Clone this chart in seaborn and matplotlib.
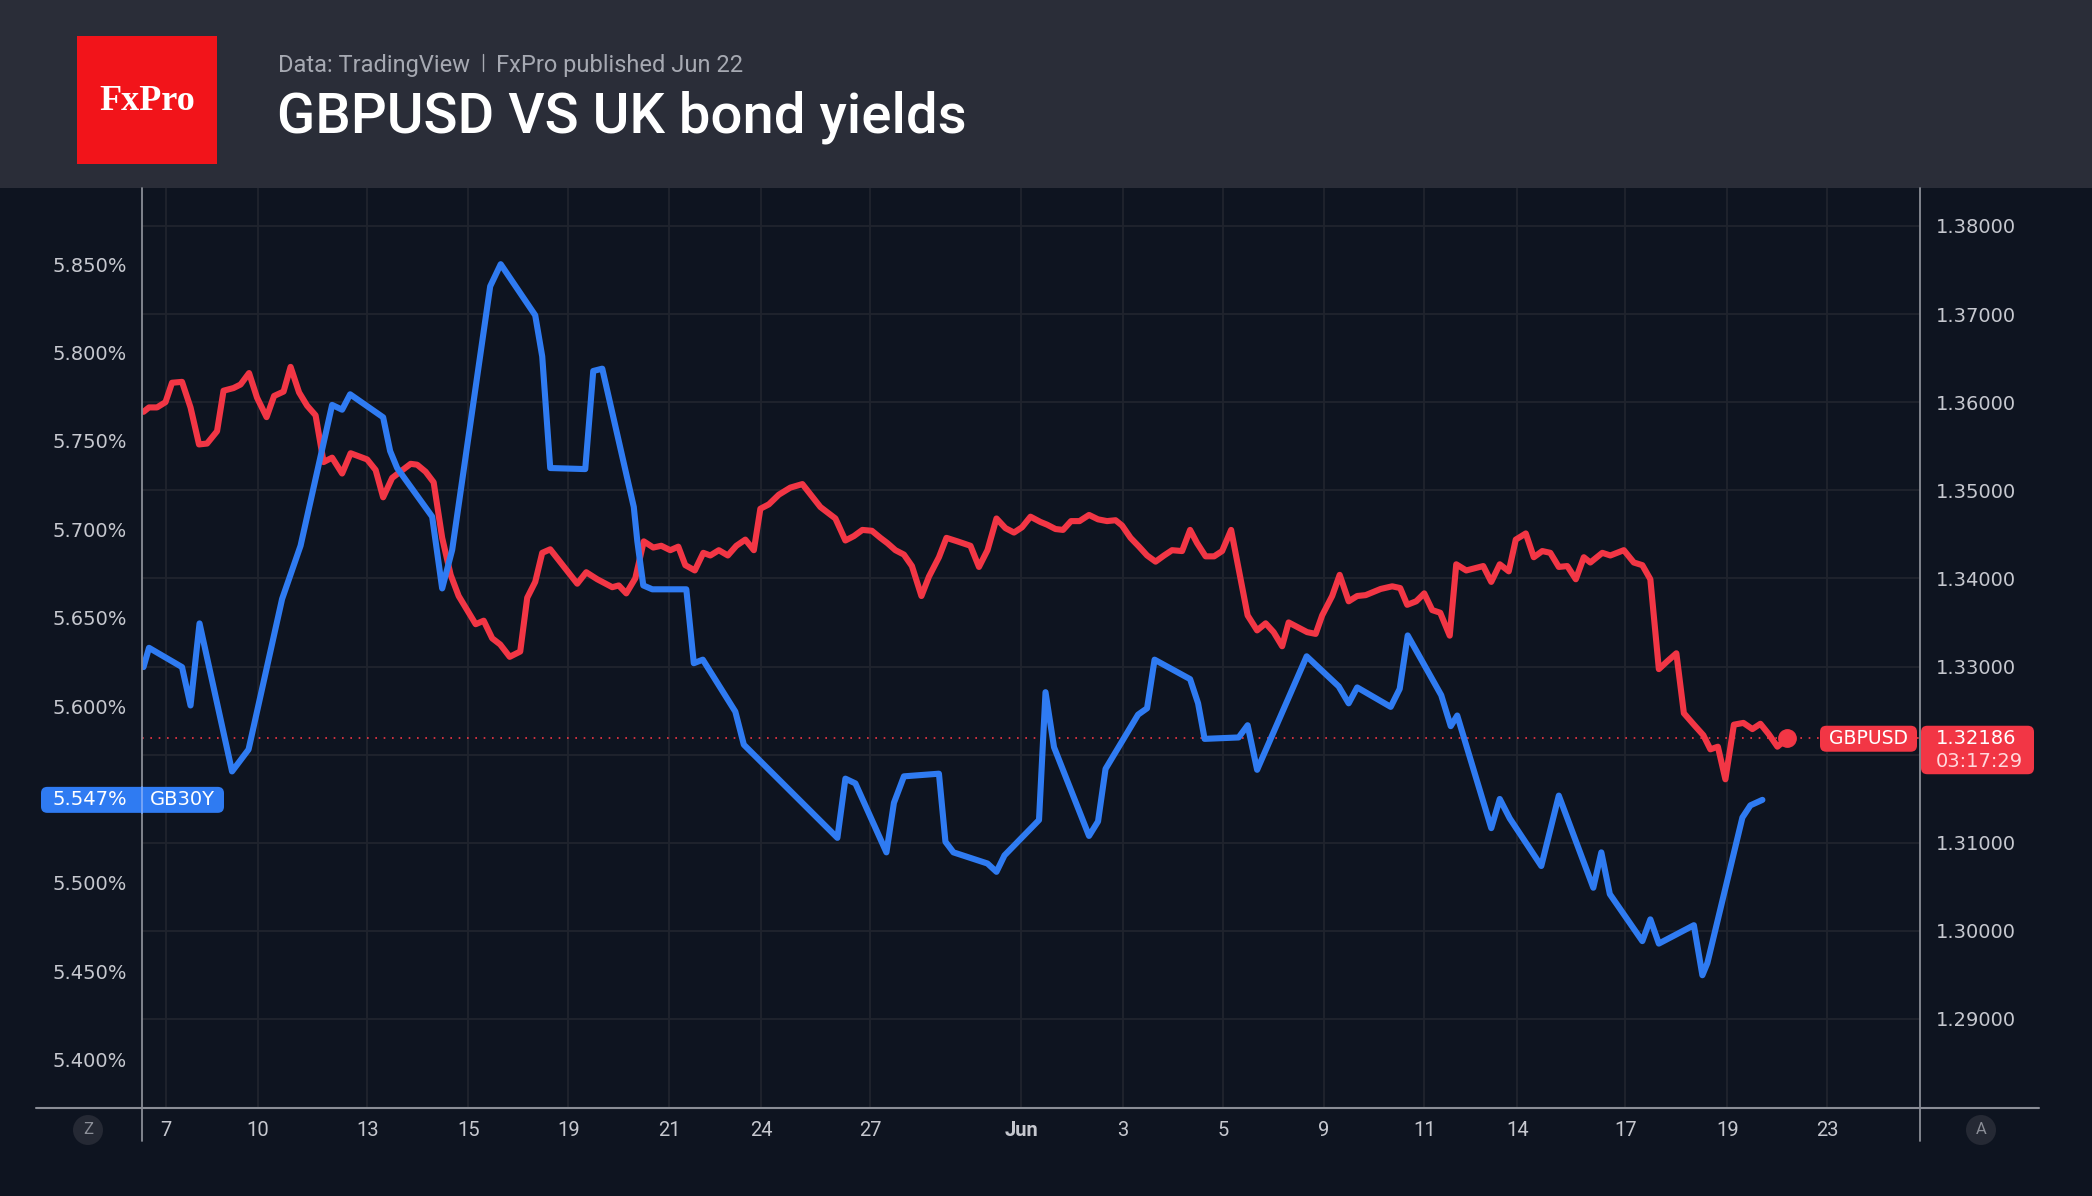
import matplotlib
matplotlib.use("Agg")
import matplotlib.pyplot as plt
from matplotlib.patches import Rectangle, FancyBboxPatch
from matplotlib.lines import Line2D
import pandas as pd
import seaborn as sns

# ---------------- data ----------------
# x unit: trading days on TradingView's compressed time scale
gbpusd_t = [0.06, 0.17, 0.33, 0.50, 0.63, 0.83, 1.00, 1.17, 1.33, 1.53,
            1.66, 1.86, 2.00, 2.17, 2.33, 2.52, 2.67, 2.86, 3.00, 3.17,
            3.33, 3.50, 3.66, 3.83, 4.03, 4.20, 4.53, 4.70, 4.85, 5.03,
            5.40, 5.53, 5.70, 5.86, 6.03, 6.20, 6.36, 6.70, 6.86, 7.03,
            7.19, 7.38, 7.59, 7.73, 7.89, 8.03, 8.19, 8.73, 8.91, 9.13,
            9.43, 9.56, 9.71, 9.89, 10.06, 10.25, 10.41, 10.59, 10.75, 10.89,
            11.08, 11.25, 11.39, 11.56, 11.74, 11.91, 12.09, 12.26, 12.39, 12.56,
            12.76, 12.99, 13.23, 13.59, 13.89, 14.09, 14.26, 14.43, 14.62, 14.79,
            14.93, 15.09, 15.26, 15.42, 15.61, 15.76, 15.96, 16.11, 16.33, 16.59,
            16.76, 16.93, 17.11, 17.29, 17.46, 17.62, 17.79, 17.99, 18.12, 18.29,
            18.44, 18.60, 18.77, 18.96, 19.14, 19.32, 19.49, 19.62, 19.79, 19.96,
            20.12, 20.29, 20.46, 20.62, 20.82, 20.98, 21.12, 21.29, 21.46, 21.62,
            21.80, 22.13, 22.32, 22.49, 22.65, 22.82, 22.95, 23.15, 23.32, 23.49,
            23.62, 23.82, 23.97, 24.15, 24.32, 24.49, 24.79, 25.02, 25.18, 25.32,
            25.50, 25.66, 25.82, 25.98, 26.17, 26.30, 26.50, 26.84, 27.00, 27.17,
            27.35, 27.49, 27.69, 27.85, 28.02, 28.18, 28.35, 28.52, 28.69, 28.85,
            28.98, 29.22, 29.38, 29.65, 29.85, 30.02, 30.18, 30.35, 30.52, 30.70,
            30.85, 31.05, 31.24, 31.38, 31.53, 31.68, 31.85, 32.04, 32.22, 32.38,
            32.55, 32.72, 32.92]
gbpusd = [1.3589, 1.3594, 1.3594, 1.3600, 1.3622, 1.3623, 1.3594, 1.3552, 1.3553, 1.3567,
          1.3613, 1.3616, 1.3620, 1.3633, 1.3605, 1.3583, 1.3607, 1.3612, 1.3640, 1.3611,
          1.3596, 1.3585, 1.3532, 1.3537, 1.3519, 1.3542, 1.3535, 1.3523, 1.3492, 1.3514,
          1.3530, 1.3529, 1.3521, 1.3509, 1.3446, 1.3404, 1.3380, 1.3348, 1.3352, 1.3332,
          1.3325, 1.3311, 1.3317, 1.3378, 1.3396, 1.3429, 1.3433, 1.3394, 1.3407, 1.3399,
          1.3390, 1.3392, 1.3383, 1.3400, 1.3442, 1.3435, 1.3437, 1.3432, 1.3436, 1.3415,
          1.3409, 1.3429, 1.3426, 1.3432, 1.3426, 1.3437, 1.3444, 1.3432, 1.3479, 1.3484,
          1.3495, 1.3503, 1.3507, 1.3481, 1.3468, 1.3443, 1.3448, 1.3455, 1.3454, 1.3446,
          1.3440, 1.3432, 1.3427, 1.3414, 1.3380, 1.3402, 1.3424, 1.3446, 1.3442, 1.3437,
          1.3413, 1.3432, 1.3468, 1.3457, 1.3452, 1.3458, 1.3470, 1.3464, 1.3461, 1.3456,
          1.3455, 1.3465, 1.3465, 1.3472, 1.3467, 1.3465, 1.3466, 1.3460, 1.3446, 1.3436,
          1.3426, 1.3419, 1.3426, 1.3432, 1.3431, 1.3455, 1.3440, 1.3425, 1.3425, 1.3431,
          1.3455, 1.3358, 1.3341, 1.3349, 1.3339, 1.3323, 1.3350, 1.3344, 1.3339, 1.3337,
          1.3358, 1.3380, 1.3404, 1.3374, 1.3380, 1.3381, 1.3388, 1.3391, 1.3389, 1.3370,
          1.3374, 1.3383, 1.3364, 1.3361, 1.3335, 1.3416, 1.3409, 1.3414, 1.3396, 1.3416,
          1.3408, 1.3444, 1.3451, 1.3424, 1.3431, 1.3429, 1.3413, 1.3414, 1.3399, 1.3424,
          1.3418, 1.3429, 1.3426, 1.3432, 1.3418, 1.3415, 1.3399, 1.3297, 1.3306, 1.3315,
          1.3247, 1.3234, 1.3222, 1.3206, 1.3209, 1.3172, 1.3234, 1.3236, 1.3229, 1.3235,
          1.3223, 1.3209, 1.32186]

gb30y_t = [0.06, 0.17, 0.83, 1.00, 1.18, 1.83, 2.16, 2.83, 3.20, 3.83,
           4.03, 4.19, 4.85, 4.99, 5.13, 5.83, 6.03, 6.23, 6.99, 7.20,
           7.89, 8.03, 8.19, 8.89, 9.05, 9.23, 9.86, 9.93, 10.05, 10.23,
           10.91, 11.06, 11.24, 11.89, 12.06, 13.93, 14.09, 14.29, 14.91, 15.06,
           15.26, 15.96, 16.09, 16.25, 16.93, 17.11, 17.27, 17.96, 18.09, 18.26,
           18.96, 19.14, 19.29, 19.94, 20.12, 20.27, 20.98, 21.14, 21.27, 21.95,
           22.13, 22.32, 23.31, 23.95, 24.15, 24.32, 24.99, 25.17, 25.33, 26.00,
           26.19, 26.32, 27.00, 27.17, 27.37, 28.00, 28.35, 29.04, 29.20, 29.37,
           30.02, 30.18, 30.35, 31.05, 31.22, 31.32, 32.02, 32.18, 32.42]
gb30y = [5.6221, 5.6330, 5.6221, 5.6004, 5.6468, 5.5631, 5.5755, 5.6606, 5.6908, 5.7704,
         5.7677, 5.7764, 5.7634, 5.7443, 5.7347, 5.7072, 5.6666, 5.6884, 5.8375, 5.8500,
         5.8211, 5.7978, 5.7347, 5.7341, 5.7896, 5.7909, 5.7127, 5.6935, 5.6683, 5.6661,
         5.6661, 5.6243, 5.6263, 5.5969, 5.5782, 5.5255, 5.5590, 5.5563, 5.5173, 5.5453,
         5.5603, 5.5618, 5.5233, 5.5173, 5.5110, 5.5063, 5.5156, 5.5356, 5.6079, 5.5768,
         5.5266, 5.5348, 5.5645, 5.5952, 5.5988, 5.6263, 5.6153, 5.6016, 5.5815, 5.5823,
         5.5892, 5.5640, 5.6282, 5.6112, 5.6016, 5.6106, 5.5996, 5.6098, 5.6400, 5.6062,
         5.5887, 5.5947, 5.5310, 5.5475, 5.5365, 5.5096, 5.5494, 5.4973, 5.5173, 5.4937,
         5.4671, 5.4794, 5.4657, 5.4761, 5.4478, 5.4547, 5.5370, 5.5439, 5.547]

x_tick_pos = [0.50, 2.35, 4.53, 6.55, 8.55, 10.57, 12.41, 14.59, 17.61,
              19.64, 21.64, 23.65, 25.66, 27.52, 29.68, 31.72, 33.71]
x_tick_labels = ["7", "10", "13", "15", "19", "21", "24", "27", "Jun",
                 "3", "5", "9", "11", "14", "17", "19", "23"]
yield_ticks = [5.40, 5.45, 5.50, 5.60, 5.65, 5.70, 5.75, 5.80, 5.85]
fx_ticks = [1.29, 1.30, 1.31, 1.32, 1.33, 1.34, 1.35, 1.36, 1.37, 1.38]
x_range = (0.03, 35.57)
yield_range = (5.3727, 5.8931)
fx_range = (1.2799, 1.3843)
last_fx = 1.32186
last_yield = 5.547
countdown = "03:17:29"
title = "GBPUSD VS UK bond yields"
subtitle_left = "Data: TradingView"
subtitle_right = "FxPro published Jun 22"

# ---------------- style ----------------
sns.set_style("dark")
plt.rcParams["font.family"] = ["DejaVu Sans"]

BG = "#0e1420"
HEADER = "#2a2d38"
GRID = "#20242e"
AXIS = "#8a8d96"
TICK = "#c6c8cf"
RED = "#f23645"
BLUE = "#2f7bf2"
SUB = "#a6a9b2"

W, H, DPI = 2092, 1196, 100
def fx(px):
    return px / W
def fy(py):
    return 1 - py / H

fig = plt.figure(figsize=(W / DPI, H / DPI), dpi=DPI, facecolor=BG)
renderer = fig.canvas.get_renderer()

# header band and logo
fig.add_artist(Rectangle((0, fy(188)), 1, 188 / H, transform=fig.transFigure,
                         facecolor=HEADER, edgecolor="none", zorder=0))
fig.add_artist(Rectangle((fx(77), fy(164)), 140 / W, 128 / H, transform=fig.transFigure,
                         facecolor="#f2141a", edgecolor="none", zorder=1))
fig.text(fx(147), fy(101), "FxPro", ha="center", va="center", color="white",
         fontsize=26, family="Liberation Serif", weight="bold")
t1 = fig.text(fx(278), fy(72), subtitle_left, ha="left", va="baseline", color=SUB,
              fontsize=17, family="Roboto")
x_end = t1.get_window_extent(renderer).x1
sep_x = x_end + 13
fig.add_artist(Line2D([sep_x / W, sep_x / W], [fy(71), fy(54)], color=SUB, lw=1.0,
                      transform=fig.transFigure))
fig.text((sep_x + 13) / W, fy(72), subtitle_right, ha="left", va="baseline", color=SUB,
         fontsize=17, family="Roboto")
fig.text(fx(277), fy(133), title, ha="left", va="baseline", color="white",
         fontsize=40.5, family="Roboto", weight="medium")

# axes
L, R, T, B = 142, 1920, 188, 1108
ax_r = fig.add_axes([fx(L), fy(B), (R - L) / W, (B - T) / H])
ax_r.set_facecolor(BG)
ax_b = ax_r.twinx()
ax_b.patch.set_visible(False)

df_fx = pd.DataFrame({"t": gbpusd_t, "v": gbpusd})
df_y = pd.DataFrame({"t": gb30y_t, "v": gb30y})
sns.lineplot(data=df_fx, x="t", y="v", ax=ax_r, color=RED, linewidth=4.4,
             estimator=None, sort=False)
sns.lineplot(data=df_y, x="t", y="v", ax=ax_b, color=BLUE, linewidth=4.4,
             estimator=None, sort=False)
for a in (ax_r, ax_b):
    for ln in a.lines:
        ln.set_solid_joinstyle("round")
        ln.set_solid_capstyle("round")
    a.set_xlabel("")
    a.set_ylabel("")
    for s in a.spines.values():
        s.set_visible(False)

ax_r.set_xlim(*x_range)
ax_r.set_ylim(*fx_range)
ax_b.set_ylim(*yield_range)

# last price line + dot
ax_r.axhline(last_fx, color=RED, lw=1.2, ls=(0, (1, 4)), zorder=1)
ax_r.plot([gbpusd_t[-1]], [last_fx], "o", color=RED, ms=12.5, zorder=5)

# ticks
ax_r.set_xticks(x_tick_pos)
ax_r.set_xticklabels(x_tick_labels)
for lab in ax_r.get_xticklabels():
    lab.set_family("Roboto")
    if lab.get_text() == "Jun":
        lab.set_weight("bold")
ax_r.tick_params(axis="x", length=0, pad=9, labelsize=14.5, labelcolor=TICK)

ax_r.yaxis.tick_right()
ax_r.set_yticks(fx_ticks)
ax_r.set_yticklabels(["" if abs(v - 1.32) < 1e-9 else f"{v:.5f}" for v in fx_ticks])
ax_r.tick_params(axis="y", length=0, pad=11.5, labelsize=14, labelcolor=TICK,
                 left=False, labelleft=False, right=False, labelright=True)

ax_b.yaxis.tick_left()
ax_b.set_yticks(yield_ticks)
ax_b.set_yticklabels([f"{v:.3f}%" for v in yield_ticks])
ax_b.tick_params(axis="y", length=0, pad=11, labelsize=14, labelcolor=TICK,
                 left=False, labelleft=True, right=False, labelright=False)

ax_r.grid(True, color=GRID, lw=1.3)
ax_b.grid(False)
ax_r.set_axisbelow(True)

# frame lines
fig.add_artist(Line2D([fx(36), fx(2039)], [fy(B), fy(B)], color=AXIS, lw=1.5,
                      transform=fig.transFigure))
for xp in (L, R):
    fig.add_artist(Line2D([fx(xp), fx(xp)], [fy(T), fy(1141)], color=AXIS, lw=1.3,
                          transform=fig.transFigure))

# Z / A buttons
for xp, ch in ((88, "Z"), (1981, "A")):
    fig.text(fx(xp), fy(1130), ch, ha="center", va="center", color="#8b8e97",
             fontsize=12, family="Roboto",
             bbox=dict(boxstyle="circle,pad=0.45", fc="#252934", ec="none"))

# price tags (positioned through the axes' data transforms)
def y_px(axis, val):
    return H - axis.transData.transform((x_range[0], val))[1]

def tag(x0, x1, ytop, ybot, color):
    fig.add_artist(FancyBboxPatch((fx(x0), fy(ybot)), (x1 - x0) / W, (ybot - ytop) / H,
                                  boxstyle="round,pad=0,rounding_size=0.003",
                                  transform=fig.transFigure, fc=color, ec="none",
                                  zorder=4, mutation_aspect=W / H))

yr = y_px(ax_r, last_fx)
tag(1820, 1917, yr - 12.5, yr + 13.5, RED)
tag(1921, 2034, yr - 12.5, yr + 36, RED)
fig.text(fx(1868), fy(yr), "GBPUSD", ha="center", va="center", color="white",
         fontsize=13.5, zorder=5)
fig.text(fx(1936), fy(yr), f"{last_fx:.5f}", ha="left", va="center", color="white",
         fontsize=14, zorder=5)
fig.text(fx(1936), fy(yr + 23), countdown, ha="left", va="center", color="#ffd8dc",
         fontsize=14, zorder=5)

yb = y_px(ax_b, last_yield)
tag(41, 224, yb - 13, yb + 13, BLUE)
fig.add_artist(Line2D([fx(L), fx(L)], [fy(yb - 13), fy(yb + 13)], color="#7aa7f7",
                      lw=1.3, transform=fig.transFigure, zorder=5))
fig.text(fx(127), fy(yb), f"{last_yield:.3f}%", ha="right", va="center", color="white",
         fontsize=14, zorder=5)
fig.text(fx(150), fy(yb), "GB30Y", ha="left", va="center", color="white",
         fontsize=14, zorder=5)

fig.savefig("out.png", dpi=DPI, facecolor=BG)
